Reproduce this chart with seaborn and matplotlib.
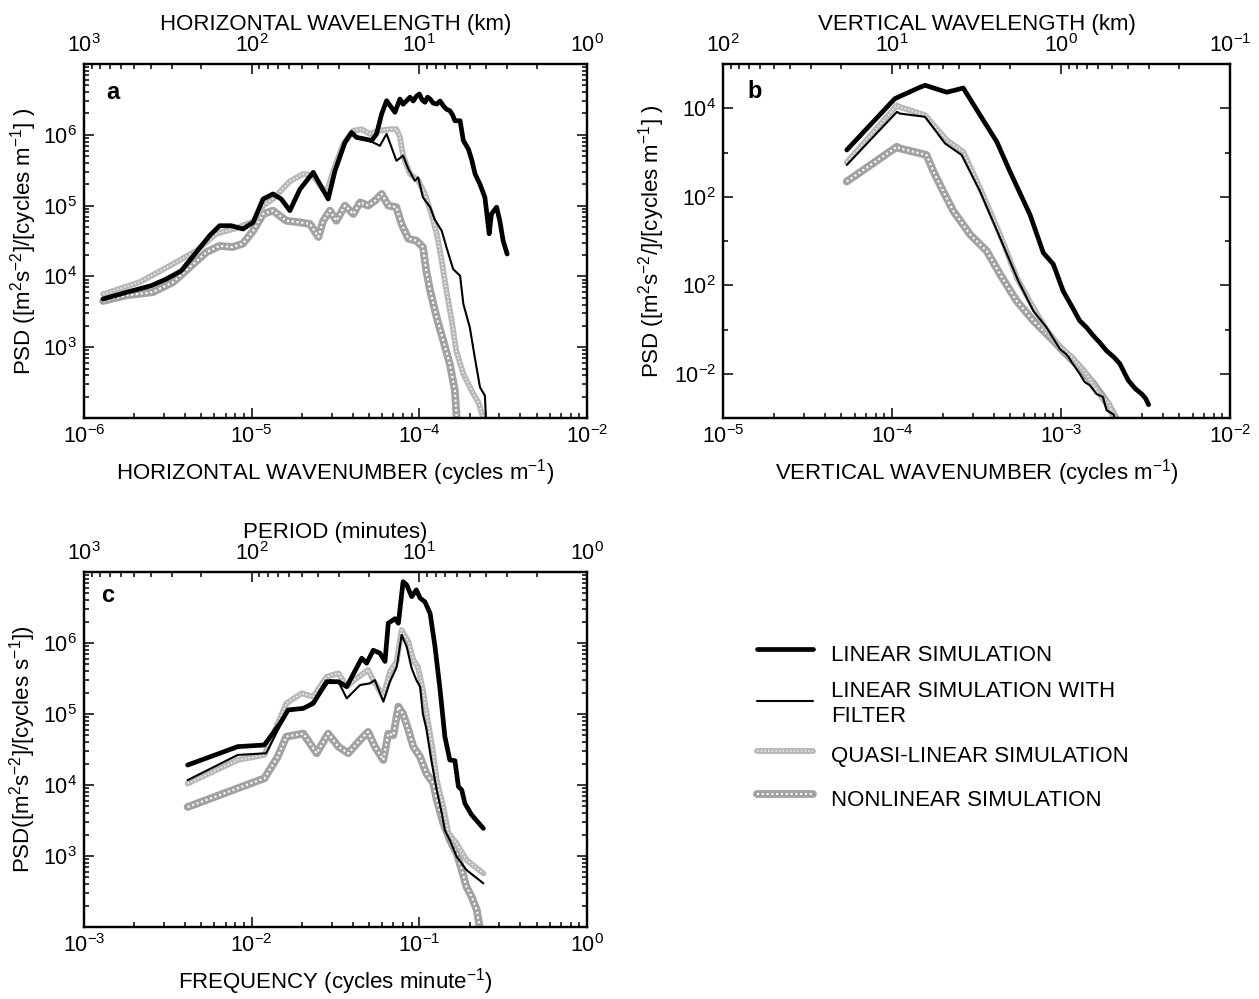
import numpy as np
import pandas as pd
import matplotlib
matplotlib.use("Agg")
import matplotlib.pyplot as plt
import seaborn as sns
from matplotlib.ticker import FixedLocator, FixedFormatter, LogLocator, NullFormatter
from matplotlib.lines import Line2D

# ---------------- data ----------------
# Panel a: horizontal wavenumber (cycles/m) vs PSD
a_lin_x = [1.30e-6, 1.79e-6, 2.52e-6, 3.10e-6, 3.80e-6, 4.67e-6, 5.61e-6, 6.44e-6, 7.55e-6, 8.87e-6,
           1.02e-5, 1.17e-5, 1.34e-5, 1.50e-5, 1.69e-5, 1.94e-5, 2.33e-5, 2.55e-5, 2.86e-5, 3.14e-5,
           3.60e-5, 3.94e-5, 4.22e-5, 4.74e-5, 5.19e-5, 5.56e-5, 5.96e-5, 6.38e-5, 7.15e-5, 7.66e-5,
           8.00e-5, 8.40e-5, 8.80e-5, 9.20e-5, 9.60e-5, 1.00e-4, 1.04e-4, 1.08e-4, 1.12e-4, 1.16e-4,
           1.21e-4, 1.27e-4, 1.33e-4, 1.39e-4, 1.45e-4, 1.52e-4, 1.58e-4, 1.63e-4, 1.75e-4, 1.83e-4,
           1.96e-4, 2.05e-4, 2.15e-4, 2.30e-4, 2.46e-4, 2.61e-4, 2.69e-4, 2.89e-4, 3.02e-4, 3.16e-4, 3.34e-4]
a_lin_y = [4.8e3, 5.96e3, 7.4e3, 9.2e3, 1.2e4, 2.19e4, 3.76e4, 5.2e4, 5.2e4, 4.67e4,
           5.8e4, 1.24e5, 1.46e5, 1.24e5, 8.5e4, 1.7e5, 2.95e5, 2.0e5, 1.24e5, 3.1e5,
           7.8e5, 1.08e6, 9.2e5, 8.7e5, 8.3e5, 1.03e6, 1.97e6, 3.03e6, 2.08e6, 3.2e6,
           2.7e6, 3.03e6, 3.4e6, 3.0e6, 3.5e6, 3.77e6, 3.1e6, 2.88e6, 3.4e6, 3.2e6,
           2.8e6, 2.72e6, 3.0e6, 2.57e6, 2.3e6, 2.19e6, 1.9e6, 1.58e6, 1.58e6, 8.3e5,
           6.3e5, 4.5e5, 2.8e5, 2.0e5, 1.31e5, 4.0e4, 7.6e4, 9.5e4, 6.1e4, 3.2e4, 2.07e4]

a_filt_x = [1.30e-6, 1.79e-6, 2.52e-6, 3.10e-6, 3.80e-6, 4.67e-6, 5.61e-6, 6.44e-6, 7.55e-6, 8.87e-6,
            1.02e-5, 1.17e-5, 1.34e-5, 1.50e-5, 1.69e-5, 1.94e-5, 2.33e-5, 2.55e-5, 2.86e-5, 3.14e-5,
            3.60e-5, 3.94e-5, 4.22e-5, 4.74e-5, 5.19e-5, 5.82e-5, 6.38e-5, 7.30e-5, 8.00e-5, 8.60e-5,
            9.40e-5, 9.85e-5, 1.05e-4, 1.16e-4, 1.23e-4, 1.36e-4, 1.45e-4, 1.59e-4, 1.75e-4, 1.83e-4,
            2.00e-4, 2.15e-4, 2.30e-4, 2.46e-4, 2.50e-4]
a_filt_y = [4.8e3, 5.96e3, 7.4e3, 9.2e3, 1.2e4, 2.19e4, 3.76e4, 5.2e4, 5.2e4, 4.67e4,
            5.8e4, 1.24e5, 1.46e5, 1.24e5, 8.5e4, 1.7e5, 2.95e5, 2.0e5, 1.24e5, 3.1e5,
            7.8e5, 1.08e6, 9.2e5, 8.7e5, 8.0e5, 7.0e5, 1.03e6, 4.3e5, 5.07e5, 3.3e5,
            2.24e5, 2.5e5, 1.31e5, 9.5e4, 6.5e4, 4.4e4, 2.6e4, 1.27e4, 1.02e4, 4.1e3,
            1.9e3, 6.8e2, 2.72e2, 2.07e2, 9.0e1]

a_quasi_x = [1.30e-6, 2.15e-6, 3.40e-6, 4.67e-6, 6.15e-6, 8.10e-6, 1.04e-5, 1.17e-5, 1.34e-5, 1.69e-5,
             2.03e-5, 2.33e-5, 2.61e-5, 2.80e-5, 3.07e-5, 3.52e-5, 4.04e-5, 4.53e-5, 5.07e-5, 5.69e-5,
             6.68e-5, 7.30e-5, 7.66e-5, 8.00e-5, 8.80e-5, 9.85e-5, 1.08e-4, 1.18e-4, 1.27e-4, 1.36e-4,
             1.45e-4, 1.56e-4, 1.66e-4, 1.83e-4, 2.05e-4, 2.25e-4, 2.40e-4, 2.45e-4]
a_quasi_y = [5.6e3, 8.3e3, 1.5e4, 2.3e4, 4.0e4, 4.8e4, 6.1e4, 1.0e5, 1.24e5, 2.2e5,
             2.8e5, 2.64e5, 1.8e5, 1.54e5, 3.1e5, 7.4e5, 1.14e6, 1.2e6, 1.03e6, 1.14e6,
             1.2e6, 1.2e6, 9.3e5, 5.07e5, 2.8e5, 2.25e5, 1.46e5, 7.6e4, 4.0e4, 1.66e4,
             6.3e3, 2.4e3, 8.9e2, 4.2e2, 2.43e2, 1.66e2, 1.02e2, 8.0e1]

a_non_x = [1.30e-6, 1.79e-6, 2.58e-6, 3.40e-6, 4.27e-6, 5.36e-6, 6.44e-6, 7.70e-6, 8.87e-6, 1.02e-5,
           1.17e-5, 1.34e-5, 1.61e-5, 1.94e-5, 2.23e-5, 2.50e-5, 2.67e-5, 2.93e-5, 3.20e-5, 3.60e-5,
           4.04e-5, 4.43e-5, 4.96e-5, 5.43e-5, 5.96e-5, 6.53e-5, 7.30e-5, 7.83e-5, 8.60e-5, 9.60e-5,
           1.05e-4, 1.10e-4, 1.16e-4, 1.27e-4, 1.39e-4, 1.52e-4, 1.63e-4, 1.68e-4]
a_non_y = [4.5e3, 5.4e3, 6.0e3, 8.3e3, 1.35e4, 2.19e4, 2.7e4, 2.6e4, 2.9e4, 4.4e4,
           7.6e4, 8.5e4, 6.1e4, 5.8e4, 5.5e4, 3.6e4, 6.1e4, 8.5e4, 6.1e4, 1.0e5,
           7.6e4, 1.11e5, 1.0e5, 1.17e5, 1.46e5, 1.0e5, 9.5e4, 5.5e4, 3.4e4, 3.2e4,
           2.6e4, 1.2e4, 6.3e3, 2.6e3, 1.23e3, 5.8e2, 2.43e2, 8.0e1]

# Panel b: vertical wavenumber (cycles/m) vs PSD
b_lin_x = [5.4e-5, 1.04e-4, 1.47e-4, 1.57e-4, 2.11e-4, 2.64e-4, 3.32e-4, 4.17e-4, 4.99e-4, 6.56e-4,
           7.86e-4, 9.0e-4, 1.03e-3, 1.16e-3, 1.29e-3, 1.42e-3, 1.55e-3, 1.70e-3, 1.86e-3, 2.05e-3,
           2.23e-3, 2.50e-3, 2.75e-3, 3.00e-3, 3.16e-3, 3.30e-3]
b_lin_y = [1.14e3, 1.65e4, 3.0e4, 3.3e4, 2.3e4, 2.86e4, 7.0e3, 1.75e3, 3.7e2, 3.9e1,
           5.4, 3.0, 0.74, 0.33, 0.158, 0.11, 0.073, 0.05, 0.033, 0.024,
           0.0168, 0.0071, 0.0046, 0.0035, 0.0028, 0.0020]

b_filt_x = [5.4e-5, 1.07e-4, 1.11e-4, 1.57e-4, 2.06e-4, 2.58e-4, 3.32e-4, 4.36e-4, 5.59e-4, 6.86e-4,
            8.2e-4, 9.86e-4, 1.07e-3, 1.11e-3, 1.16e-3, 1.29e-3, 1.38e-3, 1.48e-3, 1.62e-3, 1.77e-3,
            1.86e-3, 2.05e-3, 2.10e-3]
b_filt_y = [5.24e2, 8.3e3, 7.6e3, 6.4e3, 1.6e3, 8.8e2, 1.32e2, 11.8, 1.25, 0.264,
            0.112, 0.036, 0.028, 0.0237, 0.018, 0.0100, 0.0065, 0.0055, 0.0035, 0.0030,
            0.0015, 0.0012, 0.0008]

b_quasi_x = [5.4e-5, 1.07e-4, 1.11e-4, 1.57e-4, 2.11e-4, 2.64e-4, 3.32e-4, 4.36e-4, 5.47e-4, 6.86e-4,
             8.2e-4, 9.86e-4, 1.16e-3, 1.41e-3, 1.68e-3, 1.90e-3, 2.05e-3, 2.10e-3]
b_quasi_y = [6.0e2, 1.17e4, 1.07e4, 7.0e3, 1.9e3, 1.04e3, 1.57e2, 14.0, 1.5, 0.31,
             0.10, 0.040, 0.024, 0.010, 0.0035, 0.0022, 0.0012, 0.0008]

b_non_x = [5.4e-5, 1.07e-4, 1.11e-4, 1.60e-4, 1.76e-4, 2.01e-4, 2.31e-4, 2.90e-4, 3.64e-4, 4.36e-4,
           5.47e-4, 6.86e-4, 8.6e-4, 1.07e-3, 1.29e-3, 1.55e-3, 1.77e-3, 1.90e-3, 2.10e-3]
b_non_y = [2.21e2, 1.35e3, 1.24e3, 8.8e2, 3.7e2, 1.32e2, 47.0, 14.0, 5.9, 1.77,
           0.44, 0.158, 0.067, 0.028, 0.014, 0.006, 0.003, 0.0020, 0.0010]

# Panel c: frequency (cycles/minute) vs PSD
c_lin_x = [4.15e-3, 8.26e-3, 1.19e-2, 1.48e-2, 1.65e-2, 2.03e-2, 2.33e-2, 2.80e-2, 3.29e-2, 3.69e-2,
           4.53e-2, 4.85e-2, 5.31e-2, 5.82e-2, 6.24e-2, 6.53e-2, 7.16e-2, 7.50e-2, 8.00e-2, 8.40e-2,
           9.00e-2, 9.60e-2, 1.01e-1, 1.08e-1, 1.16e-1, 1.24e-1, 1.33e-1, 1.42e-1, 1.52e-1, 1.63e-1,
           1.71e-1, 1.79e-1, 1.87e-1, 2.05e-1, 2.41e-1]
c_lin_y = [1.91e4, 3.47e4, 3.66e4, 7.4e4, 1.14e5, 1.2e5, 1.41e5, 2.85e5, 2.85e5, 2.43e5,
           6.1e5, 5.2e5, 7.9e5, 7.2e5, 5.5e5, 1.9e6, 2.2e6, 1.9e6, 7.3e6, 6.6e6,
           4.5e6, 5.6e6, 4.3e6, 3.8e6, 2.6e6, 8.9e5, 2.18e5, 4.8e4, 2.25e4, 2.2e4,
           9.5e3, 8.5e3, 5.5e3, 3.8e3, 2.45e3]

c_filt_x = [4.15e-3, 8.26e-3, 1.22e-2, 1.65e-2, 2.03e-2, 2.44e-2, 2.93e-2, 3.29e-2, 3.69e-2, 4.43e-2,
            5.07e-2, 5.43e-2, 6.10e-2, 6.68e-2, 7.33e-2, 7.84e-2, 8.40e-2, 9.00e-2, 9.60e-2, 1.01e-1,
            1.05e-1, 1.10e-1, 1.18e-1, 1.27e-1, 1.36e-1, 1.42e-1, 1.52e-1, 1.67e-1, 1.91e-1, 2.41e-1]
c_filt_y = [1.17e4, 2.65e4, 2.8e4, 1.14e5, 1.17e5, 1.66e5, 3.0e5, 2.85e5, 1.66e5, 2.56e5,
            2.7e5, 3.0e5, 1.49e5, 2.85e5, 4.6e5, 1.3e6, 8.9e5, 4.4e5, 3.0e5, 2.43e5,
            1.0e5, 6.3e4, 2.2e4, 8.5e3, 4.0e3, 2.3e3, 1.68e3, 9.8e2, 6.35e2, 4.12e2]

c_quasi_x = [4.15e-3, 8.26e-3, 1.19e-2, 1.61e-2, 1.99e-2, 2.33e-2, 2.80e-2, 3.29e-2, 3.69e-2, 4.23e-2,
             4.95e-2, 5.31e-2, 6.10e-2, 6.68e-2, 7.33e-2, 7.84e-2, 8.60e-2, 9.20e-2, 9.80e-2, 1.05e-1,
             1.13e-1, 1.21e-1, 1.27e-1, 1.39e-1, 1.49e-1, 1.67e-1, 1.91e-1, 2.41e-1]
c_quasi_y = [1.05e4, 2.25e4, 2.65e4, 1.41e5, 1.96e5, 1.75e5, 3.35e5, 3.74e5, 2.43e5, 3.2e5,
             4.17e5, 3.0e5, 1.75e5, 3.95e5, 5.5e5, 1.52e6, 1.04e6, 5.8e5, 4.6e5, 2.18e5,
             7.4e4, 2.8e4, 1.17e4, 4.9e3, 2.1e3, 1.5e3, 8.8e2, 5.7e2]

c_non_x = [4.15e-3, 8.26e-3, 1.19e-2, 1.43e-2, 1.61e-2, 2.03e-2, 2.44e-2, 2.86e-2, 3.29e-2, 3.77e-2,
           4.43e-2, 4.95e-2, 5.43e-2, 6.10e-2, 6.53e-2, 7.00e-2, 7.50e-2, 8.00e-2, 8.60e-2, 9.20e-2,
           1.01e-1, 1.10e-1, 1.21e-1, 1.27e-1, 1.39e-1, 1.52e-1, 1.67e-1, 1.79e-1, 1.91e-1, 2.05e-1,
           2.20e-1, 2.28e-1, 2.35e-1]
c_non_y = [4.9e3, 9.0e3, 1.24e4, 2.5e4, 4.8e4, 5.3e4, 2.8e4, 5.3e4, 3.47e4, 2.8e4,
           4.3e4, 5.6e4, 3.47e4, 2.25e4, 5.3e4, 5.0e4, 1.27e5, 1.0e5, 6.0e4, 3.47e4,
           2.5e4, 1.46e4, 1.06e4, 6.2e3, 2.9e3, 1.68e3, 1.09e3, 6.35e2, 3.7e2, 2.67e2,
           1.74e2, 1.07e2, 8.0e1]

legend_labels = ["LINEAR SIMULATION", "LINEAR SIMULATION WITH\nFILTER",
                 "QUASI-LINEAR SIMULATION", "NONLINEAR SIMULATION"]

# ---------------- style ----------------
sns.set_style("ticks")
plt.rcParams["font.family"] = ["Liberation Sans", "DejaVu Sans"]
plt.rcParams["mathtext.fontset"] = "custom"
plt.rcParams["mathtext.rm"] = "Liberation Sans"
plt.rcParams["mathtext.it"] = "Liberation Sans:italic"
plt.rcParams["mathtext.bf"] = "Liberation Sans:bold"
plt.rcParams["mathtext.default"] = "regular"
plt.rcParams["axes.linewidth"] = 1.6
plt.rcParams["text.color"] = "black"
plt.rcParams["axes.labelcolor"] = "black"
plt.rcParams["xtick.color"] = "black"
plt.rcParams["ytick.color"] = "black"
plt.rcParams["axes.edgecolor"] = "black"

FS = 16
TFS = 15.5
LIN = dict(color="black", lw=3.4)
FILT = dict(color="black", lw=1.5)
QUASI_BASE = dict(color="#b8b8b8", lw=4.2)
QUASI_TEX = dict(color="#f2f2f2", lw=1.1, ls=(0, (1.0, 1.4)))
NON_BASE = dict(color="#a2a2a2", lw=5.6)
NON_TEX = dict(color="#ffffff", lw=1.5, ls=(0, (1.0, 1.3)))


def line(ax, x, y, st, z):
    df = pd.DataFrame({"x": x, "y": y})
    sns.lineplot(data=df, x="x", y="y", ax=ax, sort=False, estimator=None,
                 zorder=z, **st)


def draw_panel(ax, lin, filt, quasi, non):
    line(ax, *non, NON_BASE, 2.0)
    line(ax, *non, NON_TEX, 2.05)
    line(ax, *quasi, QUASI_BASE, 2.1)
    line(ax, *quasi, QUASI_TEX, 2.15)
    line(ax, *lin, LIN, 3)
    line(ax, *filt, FILT, 3.5)


def sup(e):
    return r"$10^{%d}$" % e


def style_axes(ax, xlim, ylim, xmaj, xlabels, ymaj, ylabels, yminor=None):
    ax.set_xscale("log")
    ax.set_yscale("log")
    ax.set_xlim(*xlim)
    ax.set_ylim(*ylim)
    ax.xaxis.set_major_locator(FixedLocator(xmaj))
    ax.xaxis.set_major_formatter(FixedFormatter(xlabels))
    ax.xaxis.set_minor_locator(LogLocator(base=10, subs=np.arange(2, 10), numticks=50))
    ax.xaxis.set_minor_formatter(NullFormatter())
    ax.yaxis.set_major_locator(FixedLocator(ymaj))
    ax.yaxis.set_major_formatter(FixedFormatter(ylabels))
    if yminor is None:
        ax.yaxis.set_minor_locator(LogLocator(base=10, subs=np.arange(2, 10), numticks=50))
    else:
        ax.yaxis.set_minor_locator(FixedLocator(yminor))
    ax.yaxis.set_minor_formatter(NullFormatter())
    ax.tick_params(which="both", direction="in", top=False, right=True,
                   labelsize=TFS, width=1.1, pad=5)
    ax.tick_params(which="major", length=7)
    ax.tick_params(which="minor", length=3.5)


def add_top(ax, tlim, tmaj, tlabels, label, pad):
    t = ax.twiny()
    t.set_xscale("log")
    t.set_xlim(*tlim)
    t.xaxis.set_major_locator(FixedLocator(tmaj))
    t.xaxis.set_major_formatter(FixedFormatter(tlabels))
    t.xaxis.set_minor_locator(LogLocator(base=10, subs=np.arange(2, 10), numticks=50))
    t.xaxis.set_minor_formatter(NullFormatter())
    t.tick_params(which="both", direction="in", labelsize=TFS, width=1.1, pad=5)
    t.tick_params(which="major", length=7)
    t.tick_params(which="minor", length=3.5)
    t.set_xlabel(label, fontsize=FS, labelpad=pad)
    ax.tick_params(which="both", top=False)
    return t


fig = plt.figure(figsize=(12.59, 9.99), dpi=100)
W, H = 1259.0, 999.0
ax_a = fig.add_axes([84 / W, 1 - 418 / H, 503 / W, 354 / H])
ax_b = fig.add_axes([723 / W, 1 - 418 / H, 507 / W, 354 / H])
ax_c = fig.add_axes([84 / W, 1 - 927 / H, 503 / W, 355 / H])

# ---- panel a
draw_panel(ax_a, (a_lin_x, a_lin_y), (a_filt_x, a_filt_y),
           (a_quasi_x, a_quasi_y), (a_non_x, a_non_y))
style_axes(ax_a, (1e-6, 1e-3), (1e2, 1e7),
           [1e-6, 1e-5, 1e-4, 1e-3], [sup(-6), sup(-5), sup(-4), sup(-2)],
           [1e3, 1e4, 1e5, 1e6], [sup(3), sup(4), sup(5), sup(6)])
ax_a.set_xlabel("HORIZONTAL WAVENUMBER (cycles m$^{-1}$)", fontsize=FS, labelpad=7)
ax_a.set_ylabel("PSD ([m$^2$s$^{-2}$]/[cycles m$^{-1}$] )", fontsize=FS, labelpad=3)
add_top(ax_a, (1e3, 1e0), [1e3, 1e2, 1e1, 1e0], [sup(3), sup(2), sup(1), sup(0)],
        "HORIZONTAL WAVELENGTH (km)", 3)
ax_a.text(0.044, 0.901, "a", transform=ax_a.transAxes, fontsize=17,
          fontweight="bold", va="baseline", ha="left")

# ---- panel b
draw_panel(ax_b, (b_lin_x, b_lin_y), (b_filt_x, b_filt_y),
           (b_quasi_x, b_quasi_y), (b_non_x, b_non_y))
style_axes(ax_b, (1e-5, 1e-2), (1e-3, 1e5),
           [1e-5, 1e-4, 1e-3, 1e-2], [sup(-5), sup(-4), sup(-3), sup(-2)],
           [1e-2, 1e0, 1e2, 1e4], [sup(-2), sup(2), sup(2), sup(4)],
           yminor=[1e-1, 1e1, 1e3])
ax_b.set_xlabel("VERTICAL WAVENUMBER (cycles m$^{-1}$)", fontsize=FS, labelpad=7)
ax_b.set_ylabel("PSD ([m$^2$s$^{-2}$/]/[cycles m$^{-1}$] )", fontsize=FS, labelpad=5)
add_top(ax_b, (1e2, 1e-1), [1e2, 1e1, 1e0, 1e-1], [sup(2), sup(1), sup(0), sup(-1)],
        "VERTICAL WAVELENGTH (km)", 3)
ax_b.text(0.049, 0.904, "b", transform=ax_b.transAxes, fontsize=17,
          fontweight="bold", va="baseline", ha="left")

# ---- panel c
draw_panel(ax_c, (c_lin_x, c_lin_y), (c_filt_x, c_filt_y),
           (c_quasi_x, c_quasi_y), (c_non_x, c_non_y))
style_axes(ax_c, (1e-3, 1e0), (1e2, 1e7),
           [1e-3, 1e-2, 1e-1, 1e0], [sup(-3), sup(-2), sup(-1), sup(0)],
           [1e3, 1e4, 1e5, 1e6], [sup(3), sup(4), sup(5), sup(6)])
ax_c.set_xlabel("FREQUENCY (cycles minute$^{-1}$)", fontsize=FS, labelpad=7)
ax_c.set_ylabel("PSD([m$^2$s$^{-2}$]/[cycles s$^{-1}$])", fontsize=FS, labelpad=4)
add_top(ax_c, (1e3, 1e0), [1e3, 1e2, 1e1, 1e0], [sup(3), sup(2), sup(1), sup(0)],
        "PERIOD (minutes)", 3)
ax_c.text(0.034, 0.915, "c", transform=ax_c.transAxes, fontsize=17,
          fontweight="bold", va="baseline", ha="left")

# ---- legend
h_lin = Line2D([], [], **LIN)
h_filt = Line2D([], [], **FILT)
h_quasi = (Line2D([], [], **QUASI_BASE), Line2D([], [], **QUASI_TEX))
h_non = (Line2D([], [], **NON_BASE), Line2D([], [], **NON_TEX))
leg = fig.legend([h_lin, h_filt, h_quasi, h_non], legend_labels,
                 loc="upper left", bbox_to_anchor=(757 / W, 1 - 638 / H),
                 frameon=False, fontsize=FS, handlelength=2.52, handletextpad=0.81,
                 handleheight=1.8, labelspacing=0.54, borderpad=0, borderaxespad=0)
leg.get_texts()[1].set_linespacing(1.25)

fig.savefig("out.png", dpi=100)
